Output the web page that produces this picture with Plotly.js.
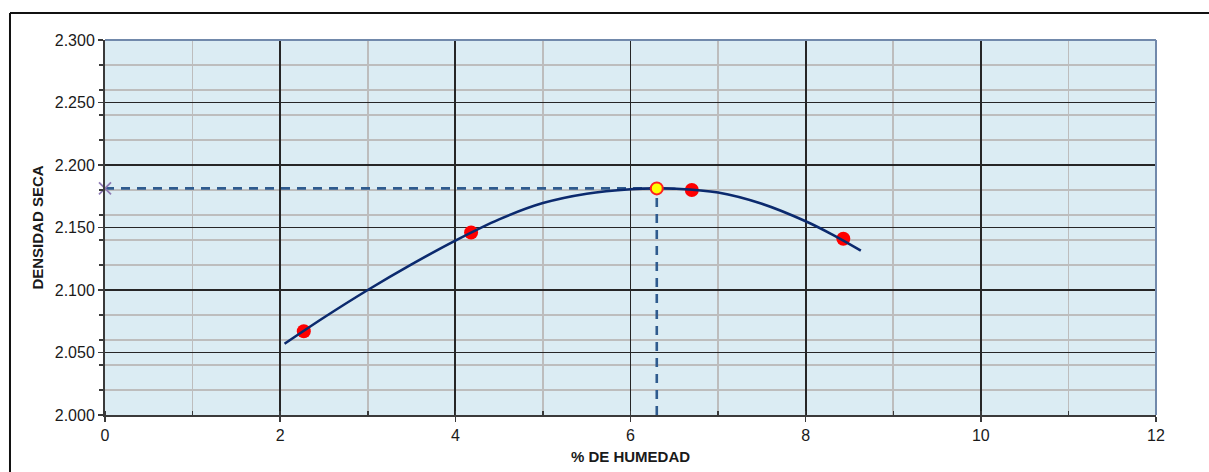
<!DOCTYPE html>
<html>
<head>
<meta charset="utf-8">
<script src="https://cdn.plot.ly/plotly-3.0.1.min.js"></script>
<style>html,body{margin:0;padding:0;background:#fff;}#chart{width:1209px;height:472px;}</style>
</head>
<body>
<div id="chart"></div>
<script>
// Measured points (% humedad, densidad seca)
const humedad = [2.27, 4.18, 6.70, 8.43];
const densidad = [2.067, 2.146, 2.180, 2.141];

// Fitted curve
const curvaX = [2.05, 2.5, 3.0, 3.5, 4.0, 4.5, 5.0, 5.5, 6.0, 6.3, 6.5, 7.0, 7.5, 8.0, 8.3, 8.63];
const curvaY = [2.057, 2.078, 2.100, 2.1205, 2.1395, 2.1565, 2.1695, 2.1770, 2.1806, 2.1813, 2.1811, 2.178, 2.169, 2.155, 2.1445, 2.1315];

// Optimum (máxima densidad seca / humedad óptima)
const optX = [6.30];
const optY = [2.1813];

const xTicks = [0, 2, 4, 6, 8, 10, 12];
const yTicks = [2.000, 2.050, 2.100, 2.150, 2.200, 2.250, 2.300];

const traces = [
  { // horizontal dashed guide
    x: [0, optX[0]], y: [optY[0], optY[0]], mode: 'lines',
    line: {color: '#2f5b8e', width: 2.6, dash: '9px,7px'}, hoverinfo: 'skip'
  },
  { // vertical dashed guide
    x: [optX[0], optX[0]], y: [2.000, optY[0]], mode: 'lines',
    line: {color: '#2f5b8e', width: 2.6, dash: '9px,7px'}, hoverinfo: 'skip'
  },
  {
    x: humedad, y: densidad, mode: 'markers',
    marker: {color: '#ff0000', size: 14, line: {width: 0, color: '#ff0000'}}
  },
  {
    x: curvaX, y: curvaY, mode: 'lines',
    line: {color: '#0b2a6e', width: 2.6, shape: 'spline', smoothing: 1}
  },
  {
    x: optX, y: optY, mode: 'markers',
    marker: {color: '#ffff00', size: 12, line: {color: '#ff2020', width: 2}}
  },
  { // marker on the y axis
    x: [0], y: optY, mode: 'markers', cliponaxis: false,
    marker: {symbol: 'x-thin', size: 12, color: '#8e7bb4', line: {color: '#8e7bb4', width: 1.8}}
  }
];

const tickFont = {family: 'Liberation Sans', size: 16, color: '#1a1a1a'};

const layout = {
  width: 1209, height: 472,
  margin: {l: 105, r: 53, t: 40, b: 57, pad: 0},
  paper_bgcolor: '#ffffff',
  plot_bgcolor: '#dbecf3',
  showlegend: false,
  font: {family: 'Liberation Sans', color: '#1a1a1a', size: 16},
  xaxis: {
    tickmode: 'array', range: [0, 12], tickvals: xTicks, ticktext: xTicks.map(String),
    showgrid: true, gridcolor: '#262626', gridwidth: 1.8,
    zeroline: false, showline: true, linecolor: '#3a3a3a', linewidth: 2, mirror: false,
    ticks: 'outside', ticklen: 5, tickwidth: 1.5, tickcolor: '#3a3a3a',
    tickfont: tickFont,
    minor: {dtick: 1, tick0: 0, showgrid: true, gridcolor: '#bdbdbd', gridwidth: 1.6, ticks: 'inside', ticklen: 4, tickcolor: '#3a3a3a'},
    title: {text: '<b>% DE HUMEDAD</b>', font: {family: 'Liberation Sans', size: 15, color: '#1a1a1a'}, standoff: 8}
  },
  yaxis: {
    tickmode: 'array', range: [2.000, 2.300], tickvals: yTicks, ticktext: yTicks.map(v => v.toFixed(3)),
    showgrid: true, gridcolor: '#262626', gridwidth: 1.8,
    zeroline: false, showline: true, linecolor: '#3a3a3a', linewidth: 2,
    ticks: 'outside', ticklen: 5, tickwidth: 1.5, tickcolor: '#3a3a3a',
    tickfont: tickFont,
    minor: {dtick: 0.02, tick0: 2.0, showgrid: true, gridcolor: '#bdbdbd', gridwidth: 1.6, ticks: 'outside', ticklen: 4, tickcolor: '#3a3a3a'},
    title: {text: '<b>DENSIDAD SECA</b>', font: {family: 'Liberation Sans', size: 15, color: '#1a1a1a'}, standoff: 8}
  },
  shapes: [
    // top and right border of plot area (slate)
    {type: 'line', xref: 'paper', yref: 'paper', x0: 0, x1: 1, y0: 1, y1: 1, line: {color: '#7189ab', width: 2}},
    {type: 'line', xref: 'paper', yref: 'paper', x0: 1, x1: 1, y0: 0, y1: 1, line: {color: '#7189ab', width: 2}},
    // outer black frame
    {type: 'line', xref: 'paper', yref: 'paper', x0: -0.0904, x1: 1.06, y0: 1.072, y1: 1.072, line: {color: '#111', width: 2}},
    {type: 'line', xref: 'paper', yref: 'paper', x0: -0.0904, x1: -0.0904, y0: -0.2, y1: 1.072, line: {color: '#111', width: 2}}
  ]
};

Plotly.newPlot('chart', traces, layout, {staticPlot: true, displayModeBar: false});
</script>
</body>
</html>
